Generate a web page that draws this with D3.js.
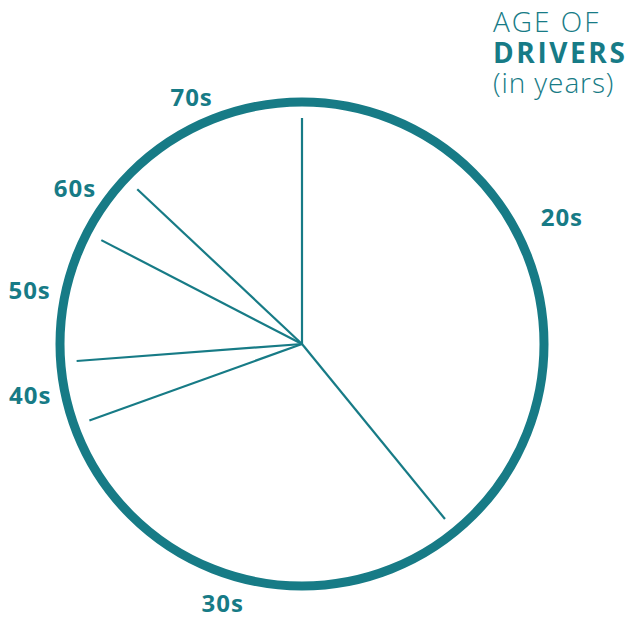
<!DOCTYPE html>
<html>
<head>
<meta charset="utf-8">
<script src="https://cdn.jsdelivr.net/npm/d3@7"></script>
<style>
  body { margin: 0; background: #fff; }
  text { font-family: "Open Sans", sans-serif; }
</style>
</head>
<body>
<svg id="pie" width="631" height="619"></svg>
<script>
// age groups, clockwise from 12 o'clock
var ages = ["20s", "30s", "40s", "50s", "60s", "70s"];
var shares = [39.1, 30.4, 4.3, 8.8, 4.4, 13.0];
var titleLines = ["AGE OF", "DRIVERS", "(in years)"];

var teal = "#177b86";
var svg = d3.select("#pie"),
    width = +svg.attr("width"),
    height = +svg.attr("height");

var cx = 302, cy = 344, R = 242;

var data = ages.map(function(a, i){ return {age: a, value: shares[i]}; });

var pie = d3.pie().sort(null).value(function(d){ return d.value; });
var arcs = pie(data);

var g = svg.append("g").attr("transform", "translate(" + cx + "," + cy + ")");

// slice separators (stop short of the rim)
var lineR = 226;
g.selectAll("line.sep")
  .data(arcs)
  .enter().append("line")
  .attr("class", "sep")
  .attr("x1", 0).attr("y1", 0)
  .attr("x2", function(d){ return lineR * Math.sin(d.startAngle); })
  .attr("y2", function(d){ return -lineR * Math.cos(d.startAngle); })
  .attr("stroke", teal)
  .attr("stroke-width", 2.2);

// outer rim
g.append("circle")
  .attr("r", R)
  .attr("fill", "none")
  .attr("stroke", teal)
  .attr("stroke-width", 9);

// labels, placed on a slightly flattened ring around the pie
var rx = 278, ry = 269;
var nudge = {"20s": [-2, -36], "30s": [-5, 0], "40s": [0, -5]};
g.selectAll("text.lbl")
  .data(arcs)
  .enter().append("text")
  .attr("class", "lbl")
  .attr("transform", function(d){
    var a = (d.startAngle + d.endAngle) / 2, n = nudge[d.data.age] || [0, 0];
    return "translate(" + (rx * Math.sin(a) + n[0]) + "," + (-ry * Math.cos(a) + n[1]) + ")";
  })
  .attr("text-anchor", "middle")
  .attr("dy", "0.36em")
  .attr("fill", teal)
  .attr("font-size", 24)
  .attr("font-weight", 700)
  .attr("letter-spacing", 1)
  .text(function(d){ return d.data.age; });

// title
var spacing = [2, 2.6, 0.9];
var title = svg.append("text").attr("x", 493).attr("fill", teal).attr("font-size", 28);
title.selectAll("tspan")
  .data(titleLines)
  .enter().append("tspan")
  .attr("x", 493)
  .attr("y", function(d, i){ return 32 + i * 30.5; })
  .attr("font-weight", function(d, i){ return i == 1 ? 700 : 300; })
  .attr("letter-spacing", function(d, i){ return spacing[i]; })
  .text(function(d){ return d; });
</script>
</body>
</html>
